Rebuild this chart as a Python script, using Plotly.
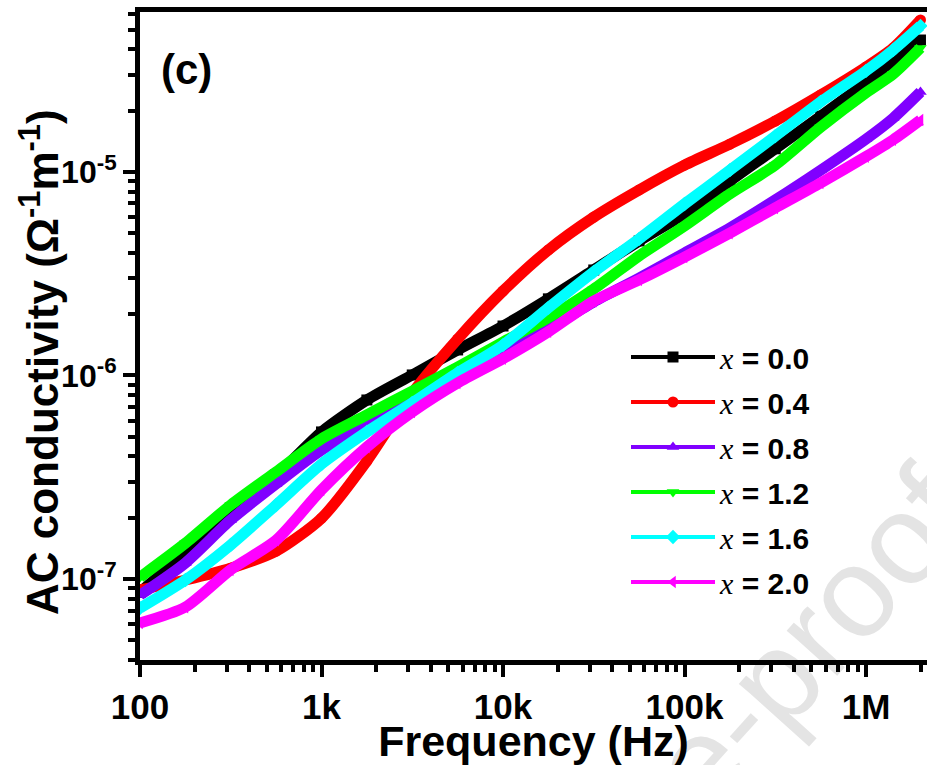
import plotly.graph_objects as go

freq = [100, 178, 316, 562, 1000, 1778, 3162, 5623, 10000, 17783, 31623,
        56234, 100000, 177828, 316228, 562341, 1000000, 1412538, 1995262]

# AC conductivity (Ohm^-1 m^-1) for each composition
sigma_00 = [8.6e-8, 1.34e-7, 2.11e-7, 3.21e-7, 5.28e-7, 7.58e-7, 1.006e-6, 1.335e-6,
            1.75e-6, 2.38e-6, 3.30e-6, 4.58e-6, 6.22e-6, 9.03e-6, 1.30e-5, 1.88e-5,
            2.74e-5, 3.47e-5, 4.45e-5]
sigma_04 = [8.83e-8, 9.89e-8, 1.13e-7, 1.37e-7, 1.99e-7, 3.80e-7, 8.20e-7, 1.51e-6,
            2.60e-6, 4.14e-6, 6.00e-6, 8.16e-6, 1.08e-5, 1.37e-5, 1.78e-5, 2.39e-5,
            3.28e-5, 4.07e-5, 5.58e-5]
sigma_08 = [8.34e-8, 1.20e-7, 1.95e-7, 2.93e-7, 4.30e-7, 5.65e-7, 7.49e-7, 9.61e-7,
            1.28e-6, 1.69e-6, 2.30e-6, 3.01e-6, 4.00e-6, 5.31e-6, 7.29e-6, 1.02e-5,
            1.45e-5, 1.84e-5, 2.47e-5]
sigma_12 = [1.02e-7, 1.50e-7, 2.31e-7, 3.36e-7, 4.88e-7, 6.40e-7, 8.39e-7, 1.10e-6,
            1.46e-6, 1.92e-6, 2.66e-6, 3.87e-6, 5.43e-6, 7.80e-6, 1.08e-5, 1.66e-5,
            2.45e-5, 3.03e-5, 4.07e-5]
sigma_16 = [7.20e-8, 9.89e-8, 1.47e-7, 2.31e-7, 3.67e-7, 5.28e-7, 7.33e-7, 1.03e-6,
            1.41e-6, 2.15e-6, 3.23e-6, 4.69e-6, 6.96e-6, 1.02e-5, 1.50e-5, 2.21e-5,
            3.14e-5, 3.98e-5, 5.22e-5]
sigma_20 = [6.08e-8, 7.28e-8, 1.11e-7, 1.55e-7, 2.74e-7, 4.45e-7, 6.62e-7, 9.19e-7,
            1.21e-6, 1.64e-6, 2.32e-6, 2.95e-6, 3.82e-6, 5.01e-6, 6.66e-6, 8.83e-6,
            1.19e-5, 1.44e-5, 1.80e-5]

labels = ["0.0", "0.4", "0.8", "1.2", "1.6", "2.0"]
series = [sigma_00, sigma_04, sigma_08, sigma_12, sigma_16, sigma_20]
colors = ["#000000", "#ff0000", "#8000ff", "#00ff00", "#00ffff", "#ff00ff"]
symbols = ["square", "circle", "triangle-up", "triangle-down", "diamond", "triangle-left"]

x_tickvals = [100, 1000, 10000, 100000, 1000000]
x_ticktext = ["100", "1k", "10k", "100k", "1M"]
y_tickvals = [1e-7, 1e-6, 1e-5]
y_ticktext = ["10<sup>-7</sup>", "10<sup>-6</sup>", "10<sup>-5</sup>"]

x_minor = [m * 10 ** e for e in range(2, 7) for m in range(2, 10)]
y_minor = [m * 10 ** e for e in range(-8, -4) for m in range(2, 10)]

FONT = "Liberation Sans"
L, T, W, H = 140, 12, 787, 648  # plot area in pixels


def px(xp):
    return (xp - L) / W


def py(yp):
    return (T + H - yp) / H


fig = go.Figure()
for lab, ys, c, s in zip(labels, series, colors, symbols):
    fig.add_trace(go.Scatter(
        x=freq, y=ys, mode="lines+markers",
        line=dict(color=c, width=11, shape="spline", smoothing=0.7),
        marker=dict(color=c, symbol=s, size=11),
        showlegend=False, hoverinfo="skip"))

for i, (lab, c, s) in enumerate(zip(labels, colors, symbols)):
    fig.add_trace(go.Scatter(
        x=[None], y=[None], mode="lines+markers",
        line=dict(color=c, width=4),
        marker=dict(color=c, symbol=s, size=11),
        legendgroup="g%d" % i,
        name="<span style='font-family:Liberation Serif;font-weight:normal'><i>x</i></span> = " + lab))

# watermark, drawn beneath everything
wx, wy = 606, 848
fig.add_shape(
    type="rect", xref="paper", yref="paper",
    x0=px(wx - 20), x1=px(wx + 20), y0=py(wy + 20), y1=py(wy - 20),
    line=dict(width=0, color="rgba(0,0,0,0)"), fillcolor="rgba(0,0,0,0)",
    layer="below",
    label=dict(text="Journal Pre-proof", textangle=-48, textposition="middle center",
               font=dict(family=FONT, size=128, color="#e4e4e4")))

fig.add_annotation(
    text="(c)", xref="paper", yref="paper",
    x=px(186), y=py(70), xanchor="center", yanchor="middle", showarrow=False,
    font=dict(family=FONT, size=42, color="black", weight="bold"))

fig.add_annotation(
    text="AC conductivity (Ω<sup>-1</sup>m<sup>-1</sup>)", xref="paper", yref="paper",
    x=px(39), y=py(362), xanchor="center", yanchor="middle", showarrow=False,
    textangle=-90,
    font=dict(family=FONT, size=44, color="black", weight="bold"))

axis_common = dict(
    showgrid=False, zeroline=False, showline=True, linewidth=5, linecolor="black",
    ticks="outside", ticklen=12, tickwidth=4, tickcolor="black",
)

fig.update_xaxes(
    type="log", range=[2, 6.336], tickmode="array",
    tickvals=x_tickvals, ticktext=x_ticktext, mirror=True,
    tickfont=dict(family=FONT, size=35, color="black", weight="bold"),
    minor=dict(tickmode="array", tickvals=x_minor, ticks="outside",
               ticklen=7, tickwidth=4, tickcolor="black"),
    title=dict(text="Frequency (Hz)", standoff=4,
               font=dict(family=FONT, size=43, color="black", weight="bold")),
    **axis_common)

fig.update_yaxes(
    type="log", range=[-7.398, -4.214], tickmode="array",
    tickvals=y_tickvals, ticktext=y_ticktext,
    tickfont=dict(family=FONT, size=32, color="black", weight="bold"),
    minor=dict(tickmode="array", tickvals=y_minor, ticks="outside",
               ticklen=7, tickwidth=4, tickcolor="black"),
    **axis_common)

fig.update_layout(
    width=927, height=765,
    margin=dict(l=L, r=0, t=T, b=765 - T - H, pad=0),
    paper_bgcolor="white", plot_bgcolor="rgba(0,0,0,0)",
    legend=dict(x=px(626), y=py(331), xanchor="left", yanchor="top",
                bgcolor="rgba(0,0,0,0)", tracegroupgap=3, itemwidth=84,
                font=dict(family=FONT, size=30, color="black", weight="bold")),
)

fig.write_html("out.html")
